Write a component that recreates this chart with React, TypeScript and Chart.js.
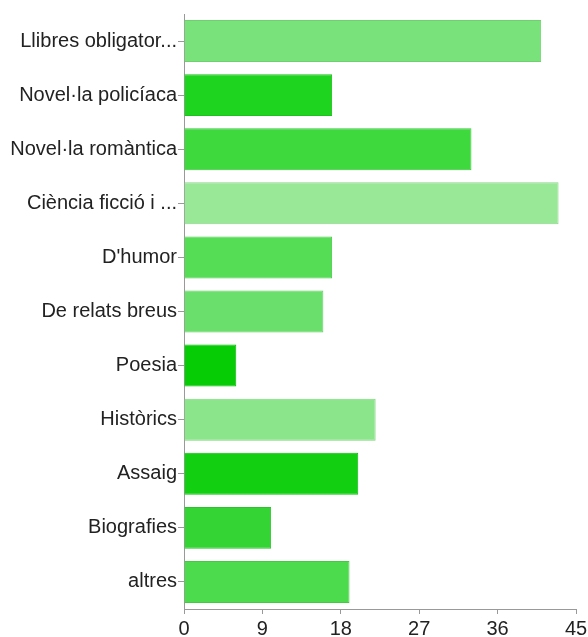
import React, { useEffect, useRef } from "react";
import { Chart, registerables } from "chart.js";

Chart.register(...registerables);

const categories = [
  "Llibres obligator...",
  "Novel·la policíaca",
  "Novel·la romàntica",
  "Ciència ficció i ...",
  "D'humor",
  "De relats breus",
  "Poesia",
  "Històrics",
  "Assaig",
  "Biografies",
  "altres",
];

const counts = [41, 17, 33, 43, 17, 16, 6, 22, 20, 10, 19];

const barColors = [
  "#7ae27a",
  "#1fd41f",
  "#3dd93d",
  "#98e898",
  "#55dd55",
  "#6bdf6b",
  "#06cc06",
  "#8be68b",
  "#12cf12",
  "#33d433",
  "#4cdb4c",
];

const barBorders = [
  "#6fd06f",
  "#1cc21c",
  "#38c738",
  "#8bd68b",
  "#4ecb4e",
  "#62cc62",
  "#05bb05",
  "#7fd37f",
  "#10bd10",
  "#2fc22f",
  "#45c945",
];

const xMin = 0;
const xMax = 45;
const xStep = 9;

export default function App() {
  const ref = useRef<HTMLCanvasElement | null>(null);

  useEffect(() => {
    if (!ref.current) return;
    const font = { family: "'Liberation Sans', Arial, sans-serif", size: 20 };
    const chart = new Chart(ref.current, {
      type: "bar",
      data: {
        labels: categories,
        datasets: [
          {
            data: counts,
            backgroundColor: barColors,
            borderColor: barBorders,
            borderWidth: 1,
            categoryPercentage: 1,
            barPercentage: 0.776,
          },
        ],
      },
      options: {
        indexAxis: "y",
        responsive: false,
        animation: false,
        devicePixelRatio: 1,
        layout: { padding: { top: 14, right: 12, left: 0, bottom: 0 } },
        plugins: {
          legend: { display: false },
          tooltip: { enabled: false },
          title: { display: false },
        },
        scales: {
          y: {
            type: "category",
            offset: true,
            grid: {
              display: true,
              drawOnChartArea: false,
              drawTicks: true,
              tickLength: 6,
              color: "#999999",
              offset: false,
            },
            border: { display: true, color: "#999999", width: 1 },
            ticks: {
              autoSkip: false,
              color: "#222222",
              font,
              padding: 1,
            },
            afterFit: (scale: any) => {
              scale.width = 184;
            },
          },
          x: {
            type: "linear",
            min: xMin,
            max: xMax,
            grid: {
              display: true,
              drawOnChartArea: false,
              drawTicks: true,
              tickLength: 5,
              color: "#999999",
            },
            border: { display: true, color: "#999999", width: 1 },
            ticks: {
              stepSize: xStep,
              color: "#222222",
              font,
              padding: 3,
              maxRotation: 0,
            },
            afterFit: (scale: any) => {
              scale.height = 28;
              scale.paddingLeft = 0;
              scale.paddingRight = 0;
            },
          },
        },
      },
    });
    return () => chart.destroy();
  }, []);

  return (
    <div style={{ position: "absolute", left: 0, top: 0, width: 588, height: 637, background: "#ffffff" }}>
      <canvas ref={ref} width={588} height={637} style={{ display: "block" }} />
    </div>
  );
}
